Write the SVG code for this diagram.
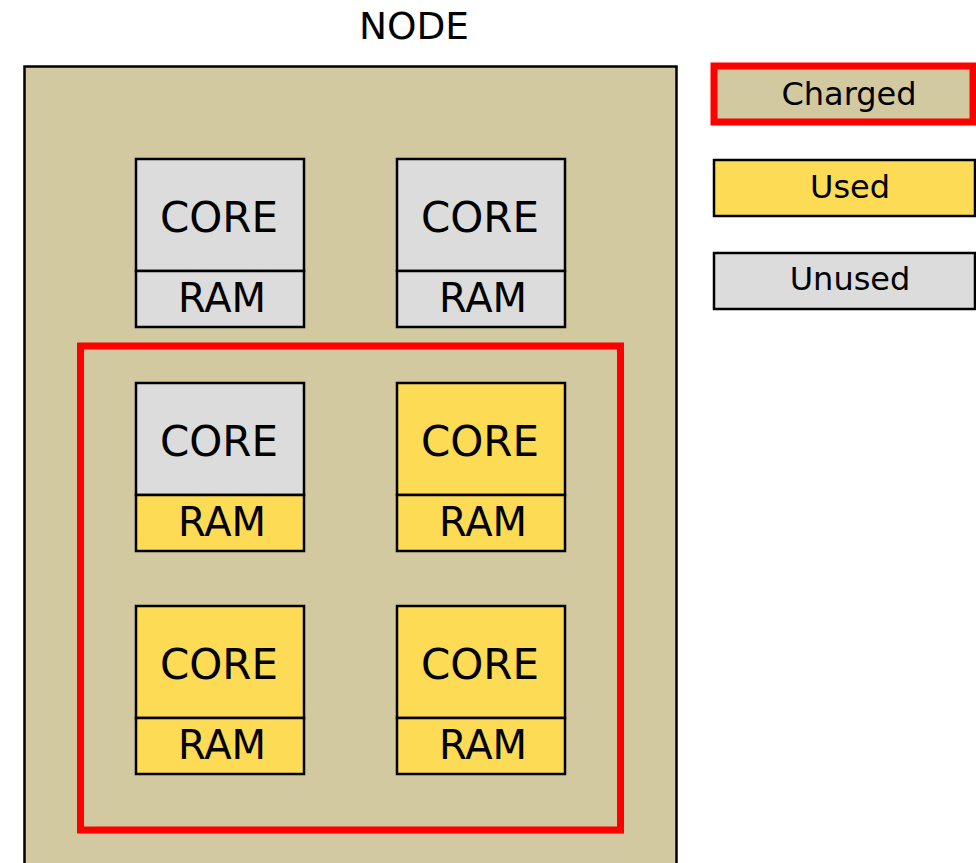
<svg xmlns="http://www.w3.org/2000/svg" width="976" height="863" viewBox="0 0 976 863">
<style>
text{font-family:"DejaVu Sans","Liberation Sans",sans-serif;fill:#000;text-anchor:middle}
.box{stroke:#000;stroke-width:2.5}
.unused{fill:#dcdcdc}
.used{fill:#fedb55}
.core{font-size:42px}
.ram{font-size:40px}
.leg{font-size:32px}
</style>
<rect width="976" height="863" fill="#fff"/>
<g id="node">
<rect x="24.5" y="66.5" width="652" height="820" fill="#d2c9a1" stroke="#000" stroke-width="2.5"/>
<text x="414" y="39" style="font-size:37.5px">NODE</text>
</g>
<g id="charged-region">
<rect x="80.5" y="346" width="540" height="484" fill="none" stroke="#ff0000" stroke-width="7"/>
</g>
<g id="unit-1-1">
<rect class="box unused" x="136" y="159" width="168" height="112"/>
<rect class="box unused" x="136" y="271" width="168" height="56"/>
<text class="core" x="219" y="232">CORE</text>
<text class="ram" x="222" y="312">RAM</text>
</g>
<g id="unit-1-2">
<rect class="box unused" x="397" y="159" width="168" height="112"/>
<rect class="box unused" x="397" y="271" width="168" height="56"/>
<text class="core" x="480" y="232">CORE</text>
<text class="ram" x="483" y="312">RAM</text>
</g>
<g id="unit-2-1">
<rect class="box unused" x="136" y="383" width="168" height="112"/>
<rect class="box used" x="136" y="495" width="168" height="56"/>
<text class="core" x="219" y="456">CORE</text>
<text class="ram" x="222" y="536">RAM</text>
</g>
<g id="unit-2-2">
<rect class="box used" x="397" y="383" width="168" height="112"/>
<rect class="box used" x="397" y="495" width="168" height="56"/>
<text class="core" x="480" y="456">CORE</text>
<text class="ram" x="483" y="536">RAM</text>
</g>
<g id="unit-3-1">
<rect class="box used" x="136" y="606" width="168" height="112"/>
<rect class="box used" x="136" y="718" width="168" height="56"/>
<text class="core" x="219" y="679">CORE</text>
<text class="ram" x="222" y="759">RAM</text>
</g>
<g id="unit-3-2">
<rect class="box used" x="397" y="606" width="168" height="112"/>
<rect class="box used" x="397" y="718" width="168" height="56"/>
<text class="core" x="480" y="679">CORE</text>
<text class="ram" x="483" y="759">RAM</text>
</g>
<g id="legend-charged">
<rect x="714" y="66" width="259" height="56" fill="#d2c9a1" stroke="#ff0000" stroke-width="7"/>
<text class="leg" x="849" y="105">Charged</text>
</g>
<g id="legend-used">
<rect class="box used" x="714" y="160" width="261" height="56"/>
<text class="leg" x="850" y="198">Used</text>
</g>
<g id="legend-unused">
<rect class="box unused" x="714" y="253" width="261" height="56"/>
<text class="leg" x="850" y="290">Unused</text>
</g>
<g id="connectors"/>
</svg>
